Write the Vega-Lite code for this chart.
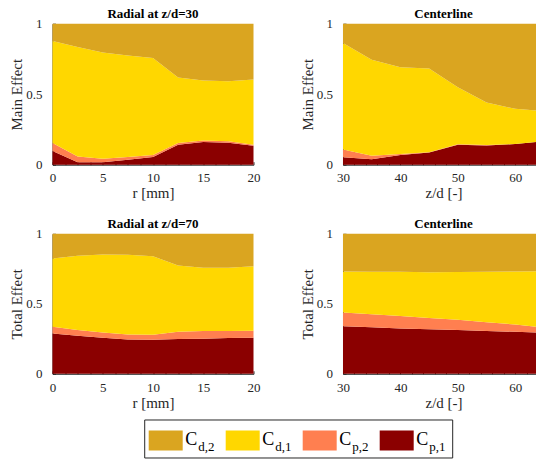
{
  "$schema": "https://vega.github.io/schema/vega-lite/v6.json",
  "padding": {"left": 9.5, "top": 7.7, "right": 0, "bottom": 0},
  "datasets": {
    "p1": [
      {"x":0,"s":"Cp,1","o":1,"v":0.097},{"x":0,"s":"Cp,2","o":2,"v":0.057},{"x":0,"s":"Cd,1","o":3,"v":0.723},{"x":0,"s":"Cd,2","o":4,"v":0.123},
      {"x":2.5,"s":"Cp,1","o":1,"v":0.017},{"x":2.5,"s":"Cp,2","o":2,"v":0.042},{"x":2.5,"s":"Cd,1","o":3,"v":0.775},{"x":2.5,"s":"Cd,2","o":4,"v":0.166},
      {"x":5,"s":"Cp,1","o":1,"v":0.017},{"x":5,"s":"Cp,2","o":2,"v":0.026},{"x":5,"s":"Cd,1","o":3,"v":0.753},{"x":5,"s":"Cd,2","o":4,"v":0.204},
      {"x":7.5,"s":"Cp,1","o":1,"v":0.035},{"x":7.5,"s":"Cp,2","o":2,"v":0.020},{"x":7.5,"s":"Cd,1","o":3,"v":0.720},{"x":7.5,"s":"Cd,2","o":4,"v":0.225},
      {"x":10,"s":"Cp,1","o":1,"v":0.055},{"x":10,"s":"Cp,2","o":2,"v":0.014},{"x":10,"s":"Cd,1","o":3,"v":0.687},{"x":10,"s":"Cd,2","o":4,"v":0.244},
      {"x":12.5,"s":"Cp,1","o":1,"v":0.142},{"x":12.5,"s":"Cp,2","o":2,"v":0.012},{"x":12.5,"s":"Cd,1","o":3,"v":0.464},{"x":12.5,"s":"Cd,2","o":4,"v":0.382},
      {"x":15,"s":"Cp,1","o":1,"v":0.161},{"x":15,"s":"Cp,2","o":2,"v":0.010},{"x":15,"s":"Cd,1","o":3,"v":0.426},{"x":15,"s":"Cd,2","o":4,"v":0.403},
      {"x":17.5,"s":"Cp,1","o":1,"v":0.156},{"x":17.5,"s":"Cp,2","o":2,"v":0.010},{"x":17.5,"s":"Cd,1","o":3,"v":0.426},{"x":17.5,"s":"Cd,2","o":4,"v":0.408},
      {"x":20,"s":"Cp,1","o":1,"v":0.135},{"x":20,"s":"Cp,2","o":2,"v":0.007},{"x":20,"s":"Cd,1","o":3,"v":0.462},{"x":20,"s":"Cd,2","o":4,"v":0.396}
    ],
    "p2": [
      {"x":30,"s":"Cp,1","o":1,"v":0.052},{"x":30,"s":"Cp,2","o":2,"v":0.055},{"x":30,"s":"Cd,1","o":3,"v":0.756},{"x":30,"s":"Cd,2","o":4,"v":0.137},
      {"x":35,"s":"Cp,1","o":1,"v":0.038},{"x":35,"s":"Cp,2","o":2,"v":0.026},{"x":35,"s":"Cd,1","o":3,"v":0.680},{"x":35,"s":"Cd,2","o":4,"v":0.256},
      {"x":40,"s":"Cp,1","o":1,"v":0.069},{"x":40,"s":"Cp,2","o":2,"v":0.007},{"x":40,"s":"Cd,1","o":3,"v":0.616},{"x":40,"s":"Cd,2","o":4,"v":0.308},
      {"x":45,"s":"Cp,1","o":1,"v":0.086},{"x":45,"s":"Cp,2","o":2,"v":0.002},{"x":45,"s":"Cd,1","o":3,"v":0.594},{"x":45,"s":"Cd,2","o":4,"v":0.318},
      {"x":50,"s":"Cp,1","o":1,"v":0.142},{"x":50,"s":"Cp,2","o":2,"v":0.003},{"x":50,"s":"Cd,1","o":3,"v":0.405},{"x":50,"s":"Cd,2","o":4,"v":0.450},
      {"x":55,"s":"Cp,1","o":1,"v":0.137},{"x":55,"s":"Cp,2","o":2,"v":0.003},{"x":55,"s":"Cd,1","o":3,"v":0.301},{"x":55,"s":"Cd,2","o":4,"v":0.559},
      {"x":60,"s":"Cp,1","o":1,"v":0.146},{"x":60,"s":"Cp,2","o":2,"v":0.001},{"x":60,"s":"Cd,1","o":3,"v":0.249},{"x":60,"s":"Cd,2","o":4,"v":0.604},
      {"x":65,"s":"Cp,1","o":1,"v":0.167},{"x":65,"s":"Cp,2","o":2,"v":0.000},{"x":65,"s":"Cd,1","o":3,"v":0.214},{"x":65,"s":"Cd,2","o":4,"v":0.619}
    ],
    "p3": [
      {"x":0,"s":"Cp,1","o":1,"v":0.288},{"x":0,"s":"Cp,2","o":2,"v":0.048},{"x":0,"s":"Cd,1","o":3,"v":0.488},{"x":0,"s":"Cd,2","o":4,"v":0.176},
      {"x":2.5,"s":"Cp,1","o":1,"v":0.271},{"x":2.5,"s":"Cp,2","o":2,"v":0.041},{"x":2.5,"s":"Cd,1","o":3,"v":0.531},{"x":2.5,"s":"Cd,2","o":4,"v":0.157},
      {"x":5,"s":"Cp,1","o":1,"v":0.257},{"x":5,"s":"Cp,2","o":2,"v":0.038},{"x":5,"s":"Cd,1","o":3,"v":0.557},{"x":5,"s":"Cd,2","o":4,"v":0.148},
      {"x":7.5,"s":"Cp,1","o":1,"v":0.245},{"x":7.5,"s":"Cp,2","o":2,"v":0.036},{"x":7.5,"s":"Cd,1","o":3,"v":0.569},{"x":7.5,"s":"Cd,2","o":4,"v":0.150},
      {"x":10,"s":"Cp,1","o":1,"v":0.243},{"x":10,"s":"Cp,2","o":2,"v":0.036},{"x":10,"s":"Cd,1","o":3,"v":0.561},{"x":10,"s":"Cd,2","o":4,"v":0.160},
      {"x":12.5,"s":"Cp,1","o":1,"v":0.248},{"x":12.5,"s":"Cp,2","o":2,"v":0.052},{"x":12.5,"s":"Cd,1","o":3,"v":0.474},{"x":12.5,"s":"Cd,2","o":4,"v":0.226},
      {"x":15,"s":"Cp,1","o":1,"v":0.250},{"x":15,"s":"Cp,2","o":2,"v":0.055},{"x":15,"s":"Cd,1","o":3,"v":0.452},{"x":15,"s":"Cd,2","o":4,"v":0.243},
      {"x":17.5,"s":"Cp,1","o":1,"v":0.255},{"x":17.5,"s":"Cp,2","o":2,"v":0.050},{"x":17.5,"s":"Cd,1","o":3,"v":0.452},{"x":17.5,"s":"Cd,2","o":4,"v":0.243},
      {"x":20,"s":"Cp,1","o":1,"v":0.257},{"x":20,"s":"Cp,2","o":2,"v":0.050},{"x":20,"s":"Cd,1","o":3,"v":0.462},{"x":20,"s":"Cd,2","o":4,"v":0.231}
    ],
    "p4": [
      {"x":30,"s":"Cp,1","o":1,"v":0.340},{"x":30,"s":"Cp,2","o":2,"v":0.098},{"x":30,"s":"Cd,1","o":3,"v":0.293},{"x":30,"s":"Cd,2","o":4,"v":0.269},
      {"x":35,"s":"Cp,1","o":1,"v":0.332},{"x":35,"s":"Cp,2","o":2,"v":0.093},{"x":35,"s":"Cd,1","o":3,"v":0.304},{"x":35,"s":"Cd,2","o":4,"v":0.271},
      {"x":40,"s":"Cp,1","o":1,"v":0.324},{"x":40,"s":"Cp,2","o":2,"v":0.088},{"x":40,"s":"Cd,1","o":3,"v":0.316},{"x":40,"s":"Cd,2","o":4,"v":0.272},
      {"x":45,"s":"Cp,1","o":1,"v":0.318},{"x":45,"s":"Cp,2","o":2,"v":0.081},{"x":45,"s":"Cd,1","o":3,"v":0.327},{"x":45,"s":"Cd,2","o":4,"v":0.274},
      {"x":50,"s":"Cp,1","o":1,"v":0.312},{"x":50,"s":"Cp,2","o":2,"v":0.074},{"x":50,"s":"Cd,1","o":3,"v":0.341},{"x":50,"s":"Cd,2","o":4,"v":0.273},
      {"x":55,"s":"Cp,1","o":1,"v":0.306},{"x":55,"s":"Cp,2","o":2,"v":0.063},{"x":55,"s":"Cd,1","o":3,"v":0.360},{"x":55,"s":"Cd,2","o":4,"v":0.271},
      {"x":60,"s":"Cp,1","o":1,"v":0.300},{"x":60,"s":"Cp,2","o":2,"v":0.052},{"x":60,"s":"Cd,1","o":3,"v":0.379},{"x":60,"s":"Cd,2","o":4,"v":0.269},
      {"x":65,"s":"Cp,1","o":1,"v":0.293},{"x":65,"s":"Cp,2","o":2,"v":0.036},{"x":65,"s":"Cd,1","o":3,"v":0.405},{"x":65,"s":"Cd,2","o":4,"v":0.266}
    ],
    "leg": [
      {"k":"Cd,2","sub":"d,2"},{"k":"Cd,1","sub":"d,1"},{"k":"Cp,2","sub":"p,2"},{"k":"Cp,1","sub":"p,1"}
    ]
  },
  "spacing": 7.8,
  "vconcat": [
    {
      "spacing": 16.1,
      "vconcat": [
        {
          "spacing": 39.5,
          "hconcat": [
            {
              "width": 201, "height": 141,
              "title": "Radial at z/d=30",
              "data": {"name": "p1"},
              "mark": {"type": "area"},
              "encoding": {
                "x": {"field": "x", "type": "quantitative", "scale": {"domain": [0, 20], "nice": false, "zero": false},
                      "axis": {"title": "r [mm]", "values": [0,1.25,2.5,3.75,5,6.25,7.5,8.75,10,11.25,12.5,13.75,15,16.25,17.5,18.75,20], "labelExpr": "datum.value % 5 == 0 ? '' + datum.value : ''"}},
                "y": {"field": "v", "type": "quantitative", "stack": "zero", "scale": {"domain": [0, 1], "nice": false},
                      "axis": {"title": "Main Effect", "values": [0,0.1,0.2,0.3,0.4,0.5,0.6,0.7,0.8,0.9,1], "labelExpr": "datum.value == 0 || datum.value == 0.5 || datum.value == 1 ? '' + datum.value : ''"}},
                "order": {"field": "o", "type": "quantitative", "sort": "ascending"},
                "color": {"field": "s", "type": "nominal", "scale": {"domain": ["Cp,1","Cp,2","Cd,1","Cd,2"], "range": ["#8B0000","#FF7F50","#FFD700","#DAA520"]}, "legend": null}
              }
            },
            {
              "width": 201, "height": 141,
              "title": "Centerline",
              "data": {"name": "p2"},
              "mark": {"type": "area"},
              "encoding": {
                "x": {"field": "x", "type": "quantitative", "scale": {"domain": [30, 65], "nice": false, "zero": false},
                      "axis": {"title": "z/d [-]", "values": [30,32,34,36,38,40,42,44,46,48,50,52,54,56,58,60,62,64], "labelExpr": "datum.value % 10 == 0 ? '' + datum.value : ''"}},
                "y": {"field": "v", "type": "quantitative", "stack": "zero", "scale": {"domain": [0, 1], "nice": false},
                      "axis": {"title": "Main Effect", "values": [0,0.1,0.2,0.3,0.4,0.5,0.6,0.7,0.8,0.9,1], "labelExpr": "datum.value == 0 || datum.value == 0.5 || datum.value == 1 ? '' + datum.value : ''"}},
                "order": {"field": "o", "type": "quantitative", "sort": "ascending"},
                "color": {"field": "s", "type": "nominal", "scale": {"domain": ["Cp,1","Cp,2","Cd,1","Cd,2"], "range": ["#8B0000","#FF7F50","#FFD700","#DAA520"]}, "legend": null}
              }
            }
          ]
        },
        {
          "spacing": 39.5,
          "hconcat": [
            {
              "width": 201, "height": 140,
              "title": "Radial at z/d=70",
              "data": {"name": "p3"},
              "mark": {"type": "area"},
              "encoding": {
                "x": {"field": "x", "type": "quantitative", "scale": {"domain": [0, 20], "nice": false, "zero": false},
                      "axis": {"title": "r [mm]", "values": [0,1.25,2.5,3.75,5,6.25,7.5,8.75,10,11.25,12.5,13.75,15,16.25,17.5,18.75,20], "labelExpr": "datum.value % 5 == 0 ? '' + datum.value : ''"}},
                "y": {"field": "v", "type": "quantitative", "stack": "zero", "scale": {"domain": [0, 1], "nice": false},
                      "axis": {"title": "Total Effect", "values": [0,0.1,0.2,0.3,0.4,0.5,0.6,0.7,0.8,0.9,1], "labelExpr": "datum.value == 0 || datum.value == 0.5 || datum.value == 1 ? '' + datum.value : ''"}},
                "order": {"field": "o", "type": "quantitative", "sort": "ascending"},
                "color": {"field": "s", "type": "nominal", "scale": {"domain": ["Cp,1","Cp,2","Cd,1","Cd,2"], "range": ["#8B0000","#FF7F50","#FFD700","#DAA520"]}, "legend": null}
              }
            },
            {
              "width": 201, "height": 140,
              "title": "Centerline",
              "data": {"name": "p4"},
              "mark": {"type": "area"},
              "encoding": {
                "x": {"field": "x", "type": "quantitative", "scale": {"domain": [30, 65], "nice": false, "zero": false},
                      "axis": {"title": "z/d [-]", "values": [30,32,34,36,38,40,42,44,46,48,50,52,54,56,58,60,62,64], "labelExpr": "datum.value % 10 == 0 ? '' + datum.value : ''"}},
                "y": {"field": "v", "type": "quantitative", "stack": "zero", "scale": {"domain": [0, 1], "nice": false},
                      "axis": {"title": "Total Effect", "values": [0,0.1,0.2,0.3,0.4,0.5,0.6,0.7,0.8,0.9,1], "labelExpr": "datum.value == 0 || datum.value == 0.5 || datum.value == 1 ? '' + datum.value : ''"}},
                "order": {"field": "o", "type": "quantitative", "sort": "ascending"},
                "color": {"field": "s", "type": "nominal", "scale": {"domain": ["Cp,1","Cp,2","Cd,1","Cd,2"], "range": ["#8B0000","#FF7F50","#FFD700","#DAA520"]}, "legend": null}
              }
            }
          ]
        }
      ]
    },
    {
      "spacing": 10.7,
      "hconcat": [
        {
          "width": 80, "height": 38,
          "data": {"values": [{"t": ""}]},
          "mark": {"type": "text"},
          "encoding": {"text": {"field": "t", "type": "nominal"}}
        },
        {
          "width": 308, "height": 38,
          "data": {"name": "leg"},
          "view": {"stroke": "#262626", "strokeWidth": 1},
          "encoding": {
            "x": {"field": "k", "type": "nominal", "sort": ["Cd,2","Cd,1","Cp,2","Cp,1"], "scale": {"type": "point", "padding": 0.5}, "axis": null}
          },
          "layer": [
            {
              "mark": {"type": "point", "shape": "M-1.7,-1H1.7V1H-1.7Z", "size": 400, "filled": true, "opacity": 1, "strokeWidth": 0, "xOffset": -17, "yOffset": 2},
              "encoding": {
                "color": {"field": "k", "type": "nominal", "scale": {"domain": ["Cp,1","Cp,2","Cd,1","Cd,2"], "range": ["#8B0000","#FF7F50","#FFD700","#DAA520"]}, "legend": null}
              }
            },
            {
              "mark": {"type": "text", "text": "C", "align": "left", "baseline": "alphabetic", "font": "Liberation Serif", "fontSize": 18, "dx": 2.5, "dy": 7, "color": "#000000"}
            },
            {
              "mark": {"type": "text", "align": "left", "baseline": "alphabetic", "font": "Liberation Serif", "fontSize": 13, "dx": 15.5, "dy": 13, "color": "#000000"},
              "encoding": {"text": {"field": "sub", "type": "nominal"}}
            }
          ]
        }
      ]
    }
  ],
  "config": {
    "font": "Liberation Serif",
    "view": {"stroke": null},
    "axis": {
      "grid": false,
      "domainColor": "#262626",
      "tickColor": "#262626",
      "labelColor": "#262626",
      "titleColor": "#262626",
      "labelFont": "Liberation Serif",
      "titleFont": "Liberation Serif",
      "labelFontSize": 13,
      "titleFontSize": 15,
      "titleFontWeight": "normal",
      "tickSize": -3,
      "zindex": 1,
      "labelOverlap": false,
      "labelFlush": false,
      "domainWidth": 1,
      "tickWidth": 1
    },
    "axisX": {"labelPadding": 10.3, "titlePadding": 1},
    "axisY": {"labelPadding": 13.6, "titlePadding": 0.7},
    "title": {"font": "Liberation Serif", "fontSize": 13, "fontWeight": "bold", "color": "#000000", "offset": -3.2, "frame": "group"}
  }
}
